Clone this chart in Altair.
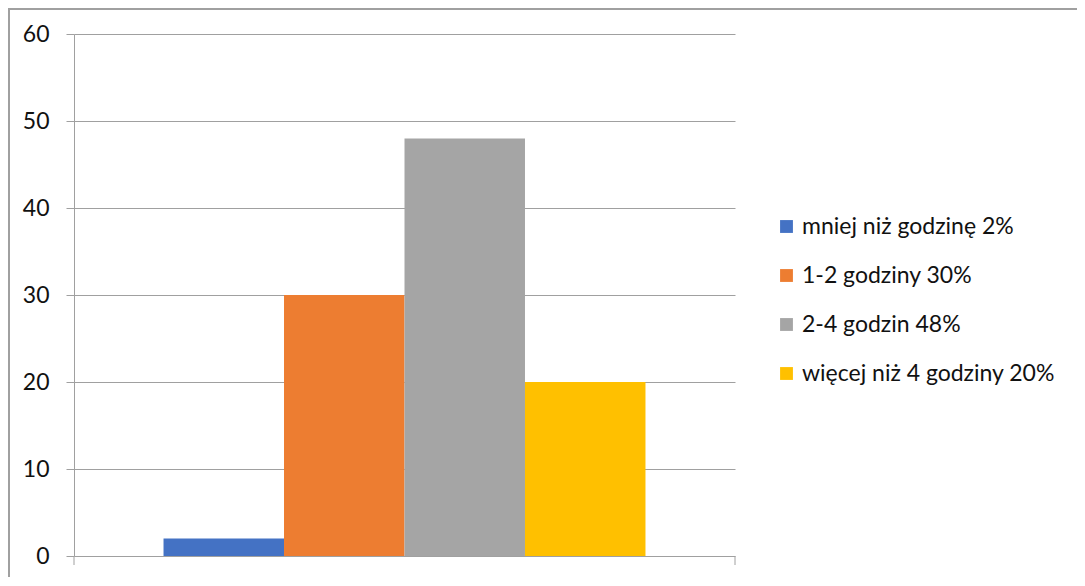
import altair as alt
import pandas as pd

series = ["mniej niż godzinę 2%", "1-2 godziny 30%", "2-4 godzin 48%", "więcej niż 4 godziny 20%"]
values = [2, 30, 48, 20]
colors = ["#4472C4", "#ED7D31", "#A5A5A5", "#FFC000"]
y_ticks = [0, 10, 20, 30, 40, 50, 60]

df = pd.DataFrame({"series": series, "value": values})

W, H = 661, 522
PL, PT, PR, PB = 66, 26, 342, 21
FONT = "Lato"
GRID = "#A0A0A0"

bars = alt.Chart(df).mark_bar().encode(
    x=alt.X("series:N", sort=series,
            scale=alt.Scale(paddingInner=0, paddingOuter=0.743), axis=None),
    y=alt.Y("value:Q", scale=alt.Scale(domain=[0, 60], nice=False),
            axis=alt.Axis(values=y_ticks, title=None, grid=True, gridColor=GRID,
                          domainColor=GRID, tickColor=GRID, tickSize=8,
                          labelPadding=17, labelFontSize=23, labelFont=FONT,
                          labelColor="#111111", domainWidth=1, gridWidth=1)),
    color=alt.Color("series:N", sort=series,
                    scale=alt.Scale(domain=series, range=colors),
                    legend=alt.Legend(title=None, orient="none", legendX=701, legendY=181,
                                      symbolType="square", symbolSize=165,
                                      symbolStrokeWidth=0, labelFontSize=23,
                                      labelFont=FONT, labelColor="#111111",
                                      labelOffset=4, rowPadding=25, padding=0,
                                      labelLimit=400)),
)

ticks = alt.Chart(pd.DataFrame({"x": [0, W]})).mark_rule(color=GRID, strokeWidth=1).encode(
    x=alt.X("x:Q", scale=alt.Scale(domain=[0, W], range=[0, W]), axis=None),
    y=alt.value(H), y2=alt.value(H + 9),
)

border_top = alt.Chart(pd.DataFrame({"a": [0]})).mark_rule(color="#A0A0A0", strokeWidth=2).encode(
    x=alt.value(-PL), x2=alt.value(W + PR), y=alt.value(-PT + 1),
)
border_left = alt.Chart(pd.DataFrame({"a": [0]})).mark_rule(color="#A0A0A0", strokeWidth=2).encode(
    x=alt.value(-PL + 1), y=alt.value(-PT), y2=alt.value(H + PB),
)

chart = alt.layer(bars, ticks, border_top, border_left).resolve_scale(x="independent").properties(
    width=W, height=H,
    autosize=alt.AutoSizeParams(type="none"),
    padding={"left": PL, "top": PT, "right": PR, "bottom": PB},
).configure_view(stroke=None)

chart.save("out.html", embed_options={"renderer": "svg", "actions": False})
